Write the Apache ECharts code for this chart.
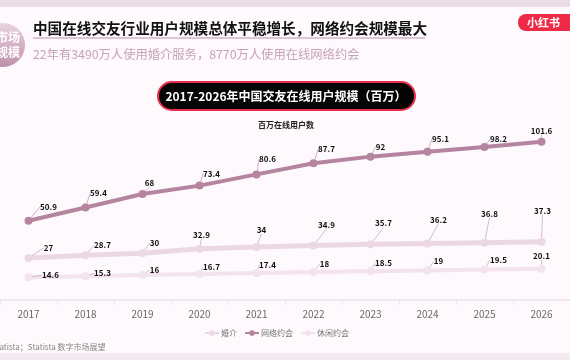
<!DOCTYPE html>
<html><head><meta charset="utf-8">
<script src="https://cdn.jsdelivr.net/npm/echarts@6/dist/echarts.min.js"></script>
<style>html,body{margin:0;padding:0;background:#fdf9fc;}#c{width:570px;height:360px;}</style>
</head><body><div id="c"></div>
<script>
const years = ['2017','2018','2019','2020','2021','2022','2023','2024','2025','2026'];
const marriage = [27, 28.7, 30, 32.9, 34, 34.9, 35.7, 36.2, 36.8, 37.3];
const online = [50.9, 59.4, 68, 73.4, 80.6, 87.7, 92, 95.1, 98.2, 101.6];
const casual = [14.6, 15.3, 16, 16.7, 17.4, 18, 18.5, 19, 19.5, 20.1];
const seriesNames = ['婚介', '网络约会', '休闲约会'];

const chart = echarts.init(document.getElementById('c'));
const F = '"Noto Sans CJK SC", "Noto Sans", sans-serif';
const lbl = {show: true, position: 'top', color: '#111', fontSize: 8, fontWeight: 'bold', fontFamily: F};
// label nudges (style only)
const offMarriage = [[20,3],[17,3],[12,3],[2,-1],[5,-4],[13,-8],[13,-8],[11,-11],[5,-16],[1,-18]];
const offOnline = [[20,-1],[13,-1],[7,2],[12,1],[11,-2],[13,-1],[10,3],[13,0],[14,5],[0,2]];
const offCasual = [[22,11],[17,10],[12,8],[12,6],[11,5],[11,5],[13,5],[11,4],[14,3],[0,0]];
function mk(name, data, color, width, lc, off) {
  return {
    name, type: 'line', data, symbol: 'circle', symbolSize: 8,
    lineStyle: {color, width}, itemStyle: {color},
    label: lbl,
    labelLine: {show: true, lineStyle: {color: lc, width: 1}},
    labelLayout: (p) => ({dx: off[p.dataIndex][0], dy: off[p.dataIndex][1]}),
    z: name === '网络约会' ? 3 : 2
  };
}
chart.setOption({
  backgroundColor: '#fdf9fc',
  animation: false,
  textStyle: {fontFamily: F},
  grid: {left: -10, right: -13, top: 113, bottom: 60, containLabel: false},
  xAxis: {type: 'category', data: years, boundaryGap: true,
    axisLine: {lineStyle: {color: '#efe7ec', width: 2}},
    axisTick: {show: true, lineStyle: {color: '#efe7ec'}},
    axisLabel: {color: '#6a6a6a', fontSize: 10, margin: 9, fontFamily: F}},
  yAxis: {type: 'value', min: 0, max: 120, show: false, splitLine: {show: false}},
  legend: {top: 324, left: 199, itemWidth: 14, itemHeight: 7, itemGap: 7,
    textStyle: {color: '#777', fontSize: 8, fontFamily: F, padding: [0, 0, 0, -3]},
    data: seriesNames},
  series: [
    mk('婚介', marriage, '#ecd8e4', 5, '#d9b9cc', offMarriage),
    mk('网络约会', online, '#b5849f', 4, '#d5adc4', offOnline),
    mk('休闲约会', casual, '#f2e3ec', 4, '#d9b9cc', offCasual)
  ],
  graphic: [
    {type: 'rect', shape: {x: 0, y: 0, width: 570, height: 7}, style: {fill: '#ecdce6'}},
    {type: 'rect', shape: {x: 0, y: 353, width: 570, height: 7}, style: {fill: '#f3e9ef'}},
    {type: 'circle', shape: {cx: 3, cy: 45, r: 22}, style: {fill: new echarts.graphic.LinearGradient(0,0,0,1,[{offset:0,color:'#e9d3e0'},{offset:1,color:'#bf8fab'}])}},
    {type: 'text', style: {x: 8, y: 45, text: '市场\n规模', fill: '#fff', font: 'bold 12px ' + F, align: 'center', verticalAlign: 'middle', lineHeight: 15}},
    {type: 'text', style: {x: 33, y: 28, text: '中国在线交友行业用户规模总体平稳增长，网络约会规模最大', fill: '#111', font: 'bold 14.6px ' + F, verticalAlign: 'middle'}},
    {type: 'rect', shape: {x: 33, y: 37, width: 392, height: 2}, style: {fill: '#dcc6d3'}},
    {type: 'text', style: {x: 33, y: 54, text: '22年有3490万人使用婚介服务，8770万人使用在线网络约会', fill: '#c7a2b9', font: '12.3px ' + F, verticalAlign: 'middle'}},
    {type: 'rect', shape: {x: 518, y: 14, width: 60, height: 17, r: 8}, style: {fill: '#ee2a47'}},
    {type: 'text', style: {x: 527, y: 23, text: '小红书', fill: '#fff', font: 'bold 11px ' + F, verticalAlign: 'middle'}},
    {type: 'rect', shape: {x: 158, y: 82, width: 257, height: 28, r: 14}, style: {fill: '#050505', stroke: '#ea2f4b', lineWidth: 2}},
    {type: 'text', style: {x: 286, y: 96, text: '2017-2026年中国交友在线用户规模（百万）', fill: '#fff', font: 'bold 12px ' + F, align: 'center', verticalAlign: 'middle'}},
    {type: 'text', style: {x: 286, y: 125, text: '百万在线用户数', fill: '#222', font: 'bold 8px ' + F, align: 'center', verticalAlign: 'middle'}},
    {type: 'text', style: {x: -8, y: 347, text: 'Statista；Statista 数字市场展望', fill: '#888', font: '8px ' + F, verticalAlign: 'middle'}}
  ]
});
</script></body></html>
